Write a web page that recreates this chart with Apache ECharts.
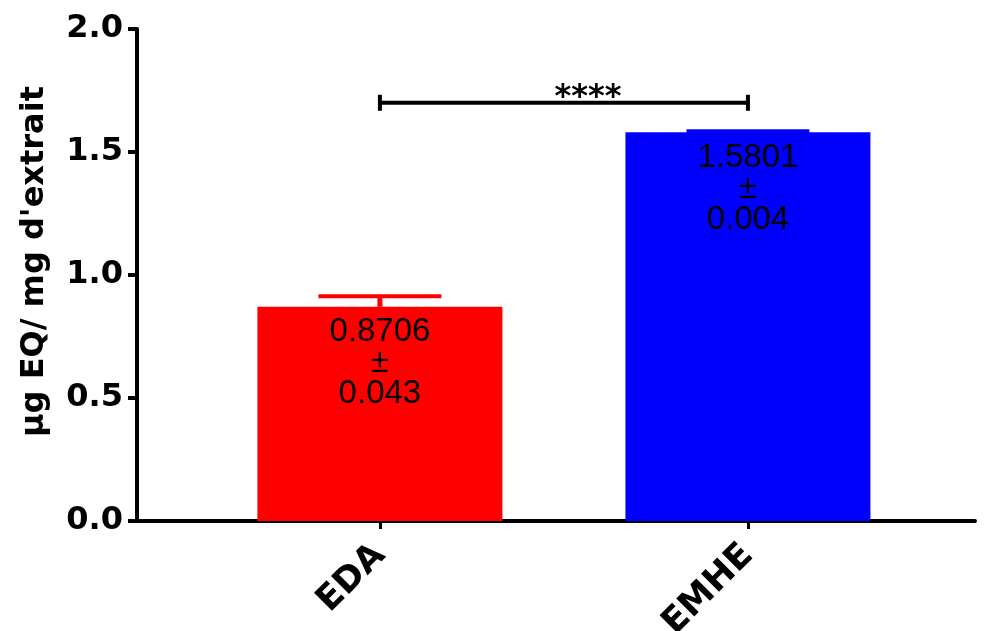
<!DOCTYPE html>
<html>
<head>
<meta charset="utf-8">
<script src="https://cdn.jsdelivr.net/npm/echarts@6/dist/echarts.min.js"></script>
<style>
  html, body { margin: 0; padding: 0; background: #fff; }
  #chart { width: 984px; height: 631px; }
</style>
</head>
<body>
<div id="chart"></div>
<script>
// Extract groups and their measured contents (mean ± SEM)
const categories = ['EDA', 'EMHE'];
const means = [0.8706, 1.5801];
const sems = [0.043, 0.004];
const meanLabels = ['0.8706', '1.5801'];
const semLabels = ['0.043', '0.004'];
const barColors = ['#ff0000', '#0000ff'];

// Y scale
const yMin = 0;
const yMax = 2;
const yStep = 0.5;

// Significance bracket between the two groups
const sigPair = [0, 1];
const sigLevel = 1.70;
const sigLabel = '****';

// Group positions along the horizontal value axis
const catPos = categories.map((_, i) => i + 1);

const chart = echarts.init(document.getElementById('chart'), null, { renderer: 'canvas' });

const barData = categories.map((c, i) => ({
  value: [catPos[i], means[i]],
  itemStyle: { color: barColors[i] },
  label: { formatter: meanLabels[i] + '\n±\n' + semLabels[i] }
}));

const errData = categories.map((c, i) => [catPos[i], means[i], sems[i], i]);

const option = {
  animation: false,
  backgroundColor: '#ffffff',
  grid: { left: 137, right: 9, top: 29, bottom: 110, containLabel: false, outerBoundsMode: 'none' },
  xAxis: {
    type: 'value',
    min: 0.34,
    max: 2.617,
    splitLine: { show: false },
    axisLine: { show: true, onZero: false, lineStyle: { color: '#000', width: 4 } },
    axisTick: { show: true, customValues: catPos, length: 8, lineStyle: { color: '#000', width: 3 } },
    axisLabel: {
      show: true,
      customValues: catPos,
      formatter: (v) => categories[Math.round(v) - 1] || '',
      rotate: 45,
      margin: 29,
      color: '#000',
      fontFamily: 'DejaVu Sans',
      fontWeight: 'bold',
      fontSize: 35
    }
  },
  yAxis: {
    type: 'value',
    min: yMin,
    max: yMax,
    interval: yStep,
    splitLine: { show: false },
    name: 'µg EQ/ mg d\'extrait',
    nameLocation: 'middle',
    nameGap: 86,
    nameTextStyle: {
      color: '#000',
      fontFamily: 'DejaVu Sans',
      fontWeight: 'bold',
      fontSize: 32,
      padding: [0, 0, 0, 27]
    },
    axisLine: { show: true, lineStyle: { color: '#000', width: 4 } },
    axisTick: { show: true, length: 9, lineStyle: { color: '#000', width: 4 } },
    axisLabel: {
      margin: 14,
      color: '#000',
      fontFamily: 'DejaVu Sans',
      fontWeight: 'bold',
      fontSize: 32,
      formatter: (v) => v.toFixed(1)
    }
  },
  series: [
    {
      type: 'bar',
      data: barData,
      barWidth: 245,
      z: 2,
      label: {
        show: true,
        position: 'insideTop',
        distance: 10,
        color: '#000',
        fontFamily: 'Liberation Sans',
        fontSize: 33,
        lineHeight: 31,
        align: 'center'
      }
    },
    {
      // Upper SEM whisker for each bar
      type: 'custom',
      data: errData,
      z: 3,
      renderItem: (params, api) => {
        const x = api.value(0);
        const m = api.value(1);
        const s = api.value(2);
        const idx = api.value(3);
        const base = api.coord([x, m]);
        const top = api.coord([x, m + s]);
        const half = api.size([0.167, 0])[0];
        const color = barColors[idx];
        return {
          type: 'group',
          children: [
            { type: 'line', shape: { x1: top[0], y1: base[1], x2: top[0], y2: top[1] },
              style: { stroke: color, lineWidth: 5 } },
            { type: 'line', shape: { x1: top[0] - half, y1: top[1], x2: top[0] + half, y2: top[1] },
              style: { stroke: color, lineWidth: 4 } }
          ]
        };
      }
    },
    {
      // Significance bracket
      type: 'custom',
      data: [[catPos[sigPair[0]], catPos[sigPair[1]], sigLevel]],
      z: 4,
      renderItem: (params, api) => {
        const a = api.coord([api.value(0), api.value(2)]);
        const b = api.coord([api.value(1), api.value(2)]);
        return {
          type: 'group',
          children: [
            { type: 'line', shape: { x1: a[0], y1: a[1], x2: b[0], y2: b[1] },
              style: { stroke: '#000', lineWidth: 4 } },
            { type: 'line', shape: { x1: a[0], y1: a[1] - 8, x2: a[0], y2: a[1] + 8 },
              style: { stroke: '#000', lineWidth: 4 } },
            { type: 'line', shape: { x1: b[0], y1: b[1] - 8, x2: b[0], y2: b[1] + 8 },
              style: { stroke: '#000', lineWidth: 4 } },
            { type: 'text',
              style: { x: (a[0] + b[0]) / 2 + 24, y: a[1] + 11, text: sigLabel,
                       align: 'center', verticalAlign: 'bottom',
                       fill: '#000', font: 'bold 32px "DejaVu Sans"' } }
          ]
        };
      }
    }
  ]
};

chart.setOption(option);
</script>
</body>
</html>
